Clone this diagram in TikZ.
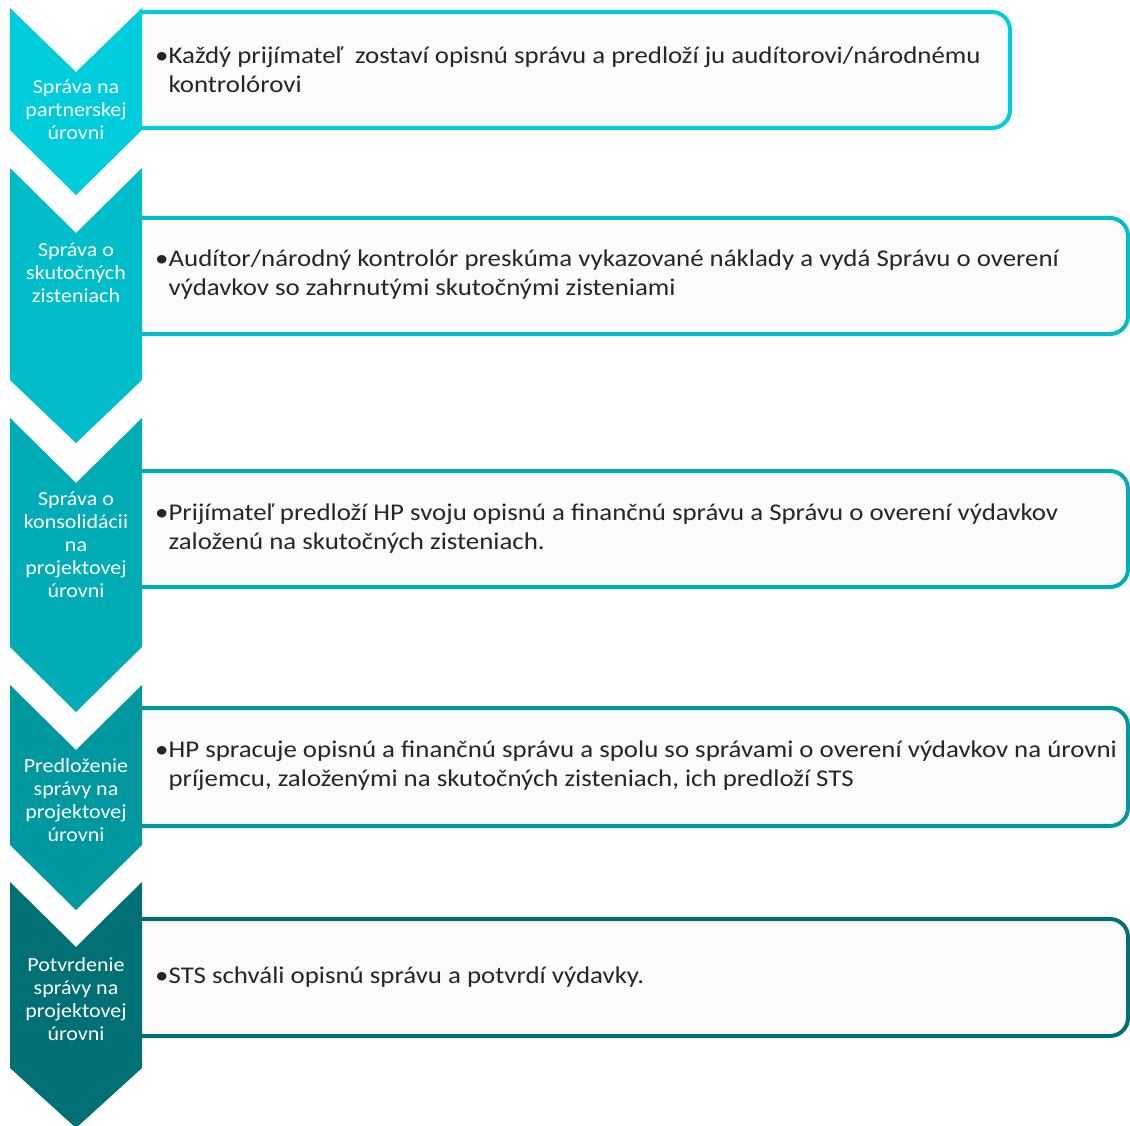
\documentclass[tikz,border=0pt]{standalone}
\usepackage{fontspec}
\setmainfont{Carlito}
\newfontfamily\bodyfont[FakeStretch=1.12]{Carlito}
\newfontfamily\lblfont[FakeStretch=1.1]{Carlito}
\definecolor{cA}{RGB}{0,205,219}
\definecolor{cB}{RGB}{0,190,201}
\definecolor{cC}{RGB}{0,172,182}
\definecolor{cD}{RGB}{0,152,159}
\definecolor{cE}{RGB}{0,112,117}
\definecolor{boxfill}{RGB}{251,251,251}
\definecolor{txt}{RGB}{38,38,38}
\tikzset{
  chev/.style={fill=#1, draw=none},
  panelline/.style={draw=#1, line width=4pt},
  lbl/.style={text=white, align=center, inner sep=0pt, font=\lblfont\fontsize{20}{23}\selectfont},
  body/.style={text=txt, align=left, anchor=west, inner sep=0pt, font=\bodyfont\fontsize{24}{29}\selectfont},
}
\newcommand{\chevron}[5]{% color, top, notch, sideend, tip
  \fill[chev=#1] (10,#2) -- (76,#3) -- (142,#2) -- (142,#4) -- (76,#5) -- (10,#4) -- cycle;}
\newcommand{\panelbox}[4]{% color, top, bottom, right
  \fill[boxfill] (140,#2) -- (900,#2) [rounded corners=18pt] -- (#4,#2) -- (#4,#3) [sharp corners] -- (140,#3) -- cycle;
  \draw[panelline=#1] (140,#2) -- (900,#2) [rounded corners=18pt] -- (#4,#2) -- (#4,#3) [sharp corners] -- (140,#3);}
\begin{document}
\begin{tikzpicture}[x=1pt,y=-1pt]
\useasboundingbox[fill=white] (0,0) rectangle (1130,1126);
% panels
\panelbox{cA}{12}{128}{1010}
\panelbox{cB}{218}{334}{1128}
\panelbox{cC}{471}{587}{1128}
\panelbox{cD}{708}{826}{1128}
\panelbox{cE}{919}{1036}{1128}
% chevrons
\chevron{cA}{8}{72}{130}{195}
\chevron{cB}{168}{233}{380}{443}
\chevron{cC}{418}{483}{647}{712}
\chevron{cD}{685}{750}{845}{910}
\chevron{cE}{882}{947}{1068}{1128}
% labels
\node[lbl] (l1) at (76,110) {Správa na\\partnerskej\\úrovni};
\node[lbl] (l2) at (76,273) {Správa o\\skutočných\\zisteniach};
\node[lbl] (l3) at (76,545) {Správa o\\konsolidácii\\na\\projektovej\\úrovni};
\node[lbl] (l4) at (76,800) {Predloženie\\správy na\\projektovej\\úrovni};
\node[lbl] (l5) at (76,999) {Potvrdenie\\správy na\\projektovej\\úrovni};
% texts
\node[body] (t1) at (155,70) {•Každý prijímateľ\ \ zostaví opisnú správu a predloží ju audítorovi/národnému\\\phantom{•}kontrolórovi};
\node[body] (t2) at (155,275) {•Audítor/národný kontrolór preskúma vykazované náklady a vydá Správu o overení\\\phantom{•}výdavkov so zahrnutými skutočnými zisteniami};
\node[body] (t3) at (155,529) {•Prijímateľ predloží HP svoju opisnú a finančnú správu a Správu o overení výdavkov\\\phantom{•}založenú na skutočných zisteniach.};
\node[body] (t4) at (155,766) {•HP spracuje opisnú a finančnú správu a spolu so správami o overení výdavkov na úrovni\\\phantom{•}príjemcu, založenými na skutočných zisteniach, ich predloží STS};
\node[body] (t5) at (155,977) {•STS schváli opisnú správu a potvrdí výdavky.};
\end{tikzpicture}
\end{document}
